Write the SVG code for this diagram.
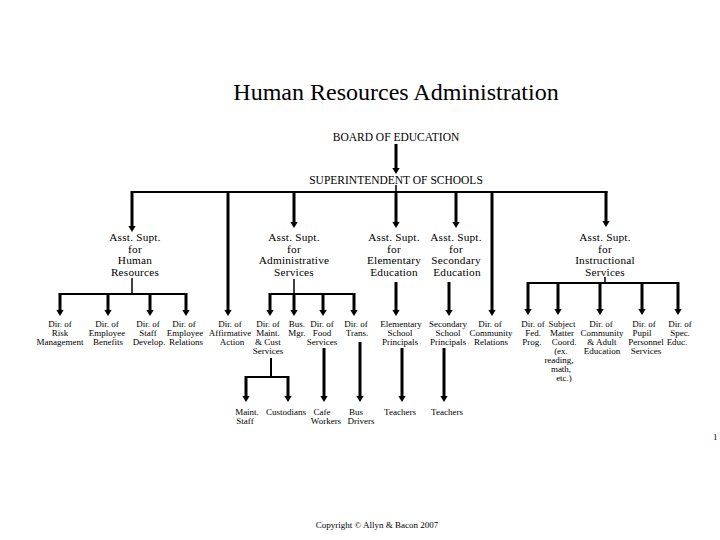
<svg xmlns="http://www.w3.org/2000/svg" width="720" height="540" viewBox="0 0 720 540">
<style>
text{font-family:"Liberation Serif","Times New Roman",serif;fill:#000;text-anchor:middle}
.t{font-size:24px}
.h{font-size:11.5px}
.m{font-size:11.3px;letter-spacing:0.2px}
.s{font-size:9px}
.c{font-size:9px}
.a{stroke:#000;stroke-width:3;fill:none;marker-end:url(#ah)}
.b{stroke:#000;stroke-width:2;fill:none}
.n{stroke:#000;stroke-width:1.5;fill:none}
</style>
<defs>
<marker id="ah" markerUnits="userSpaceOnUse" markerWidth="7" markerHeight="8" refX="0.5" refY="4" orient="auto">
<path d="M0,0 L6.5,4 L0,8 z" fill="#000"/>
</marker>
</defs>
<rect width="720" height="540" fill="#fff"/>
<text class="t" x="396" y="100">Human Resources Administration</text>

<g id="connectors">
<line class="a" x1="396" y1="144" x2="396" y2="168"/>
<line class="n" x1="396" y1="185" x2="396" y2="192"/>
<line class="b" x1="131" y1="192" x2="607.5" y2="192"/>
<line class="a" x1="132" y1="191" x2="132" y2="226"/>
<line class="a" x1="228" y1="191" x2="228" y2="310"/>
<line class="a" x1="294" y1="191" x2="294" y2="222"/>
<line class="a" x1="396" y1="191" x2="396" y2="222"/>
<line class="a" x1="456" y1="191" x2="456" y2="222"/>
<line class="a" x1="492" y1="191" x2="492" y2="310"/>
<line class="a" x1="606" y1="191" x2="606" y2="221"/>
<line class="n" x1="132" y1="278" x2="132" y2="294"/>
<line class="b" x1="59" y1="294" x2="187" y2="294"/>
<line class="a" x1="60" y1="293" x2="60" y2="310"/>
<line class="a" x1="108" y1="293" x2="108" y2="310"/>
<line class="a" x1="150" y1="293" x2="150" y2="310"/>
<line class="a" x1="186" y1="293" x2="186" y2="310"/>
<line class="n" x1="294" y1="279" x2="294" y2="294"/>
<line class="b" x1="269" y1="294" x2="355" y2="294"/>
<line class="a" x1="270" y1="293" x2="270" y2="310"/>
<line class="a" x1="294" y1="293" x2="294" y2="310"/>
<line class="a" x1="323" y1="293" x2="323" y2="310"/>
<line class="a" x1="354" y1="293" x2="354" y2="310"/>
<line class="a" x1="396" y1="282" x2="396" y2="310"/>
<line class="a" x1="449" y1="282" x2="449" y2="310"/>
<line class="n" x1="605" y1="277" x2="605" y2="283"/>
<line class="b" x1="527" y1="283" x2="679" y2="283"/>
<line class="a" x1="528" y1="282" x2="528" y2="309"/>
<line class="a" x1="558" y1="282" x2="558" y2="309"/>
<line class="a" x1="600" y1="282" x2="600" y2="309"/>
<line class="a" x1="642" y1="282" x2="642" y2="309"/>
<line class="a" x1="678" y1="282" x2="678" y2="309"/>
<line class="b" x1="271" y1="358" x2="271" y2="377"/>
<line class="b" x1="245" y1="377" x2="289" y2="377"/>
<line class="a" x1="246" y1="376" x2="246" y2="396"/>
<line class="a" x1="288" y1="376" x2="288" y2="396"/>
<line class="a" x1="324" y1="348" x2="324" y2="396"/>
<line class="a" x1="360" y1="342" x2="360" y2="396"/>
<line class="a" x1="402" y1="348" x2="402" y2="396"/>
<line class="a" x1="444" y1="348" x2="444" y2="396"/>
</g>

<g id="board"><text class="h" x="396" y="141">BOARD OF EDUCATION</text></g>
<g id="super"><text class="h" x="396" y="184">SUPERINTENDENT OF SCHOOLS</text></g>

<g id="asst-hr"><text class="m" x="135" y="241">Asst. Supt.</text><text class="m" x="135" y="252.5">for</text><text class="m" x="135" y="264">Human</text><text class="m" x="135" y="275.5">Resources</text></g>
<g id="asst-admin"><text class="m" x="294" y="241">Asst. Supt.</text><text class="m" x="294" y="252.5">for</text><text class="m" x="294" y="264">Administrative</text><text class="m" x="294" y="275.5">Services</text></g>
<g id="asst-elem"><text class="m" x="394" y="241">Asst. Supt.</text><text class="m" x="394" y="252.5">for</text><text class="m" x="394" y="264">Elementary</text><text class="m" x="394" y="275.5">Education</text></g>
<g id="asst-sec"><text class="m" x="456" y="241">Asst. Supt.</text><text class="m" x="456" y="252.5">for</text><text class="m" x="456" y="264">Secondary</text><text class="m" x="457" y="275.5">Education</text></g>
<g id="asst-instr"><text class="m" x="605" y="241">Asst. Supt.</text><text class="m" x="605" y="252.5">for</text><text class="m" x="605" y="264">Instructional</text><text class="m" x="605" y="275.5">Services</text></g>

<g id="dir-risk"><text class="s" x="60" y="327">Dir. of</text><text class="s" x="60" y="336">Risk</text><text class="s" x="60" y="345">Management</text></g>
<g id="dir-benefits"><text class="s" x="107" y="327">Dir. of</text><text class="s" x="107" y="336">Employee</text><text class="s" x="108" y="345">Benefits</text></g>
<g id="dir-staff"><text class="s" x="148" y="327">Dir. of</text><text class="s" x="148" y="336">Staff</text><text class="s" x="149" y="345">Develop.</text></g>
<g id="dir-emprel"><text class="s" x="184" y="327">Dir. of</text><text class="s" x="185" y="336">Employee</text><text class="s" x="186" y="345">Relations</text></g>
<g id="dir-aa"><text class="s" x="230" y="327">Dir. of</text><text class="s" x="230" y="336">Affirmative</text><text class="s" x="232" y="345">Action</text></g>
<g id="dir-maint"><text class="s" x="268" y="327">Dir. of</text><text class="s" x="268" y="336">Maint.</text><text class="s" x="268" y="345">&amp; Cust</text><text class="s" x="268" y="354">Services</text></g>
<g id="bus-mgr"><text class="s" x="297" y="327">Bus.</text><text class="s" x="297" y="336">Mgr.</text></g>
<g id="dir-food"><text class="s" x="322" y="327">Dir. of</text><text class="s" x="322" y="336">Food</text><text class="s" x="322" y="345">Services</text></g>
<g id="dir-trans"><text class="s" x="356" y="327">Dir. of</text><text class="s" x="357" y="336">Trans.</text></g>
<g id="elem-prin"><text class="s" x="401" y="327">Elementary</text><text class="s" x="400" y="336">School</text><text class="s" x="400" y="345">Principals</text></g>
<g id="sec-prin"><text class="s" x="448" y="327">Secondary</text><text class="s" x="448" y="336">School</text><text class="s" x="448" y="345">Principals</text></g>
<g id="dir-comm"><text class="s" x="490" y="327">Dir. of</text><text class="s" x="491" y="336">Community</text><text class="s" x="491" y="345">Relations</text></g>
<g id="dir-fed"><text class="s" x="533" y="327">Dir. of</text><text class="s" x="533" y="336">Fed.</text><text class="s" x="532" y="345">Prog.</text></g>
<g id="subject"><text class="s" x="562" y="327">Subject</text><text class="s" x="562" y="336">Matter</text><text class="s" x="564" y="345">Coord.</text><text class="s" x="561" y="354">(ex.</text><text class="s" x="559" y="363">reading,</text><text class="s" x="561" y="372">math,</text><text class="s" x="564" y="381">etc.)</text></g>
<g id="dir-adult"><text class="s" x="601" y="327">Dir. of</text><text class="s" x="602" y="336">Community</text><text class="s" x="602" y="345">&amp; Adult</text><text class="s" x="602" y="354">Education</text></g>
<g id="dir-pupil"><text class="s" x="644" y="327">Dir. of</text><text class="s" x="642" y="336">Pupil</text><text class="s" x="646" y="345">Personnel</text><text class="s" x="646" y="354">Services</text></g>
<g id="dir-spec"><text class="s" x="680" y="327">Dir. of</text><text class="s" x="680" y="336">Spec.</text><text class="s" x="677" y="345">Educ.</text></g>

<g id="maint-staff"><text class="s" x="247" y="415">Maint.</text><text class="s" x="245" y="424">Staff</text></g>
<g id="custodians"><text class="s" x="286" y="415">Custodians</text></g>
<g id="cafe"><text class="s" x="322" y="415">Cafe</text><text class="s" x="326" y="424">Workers</text></g>
<g id="bus-drivers"><text class="s" x="356" y="415">Bus</text><text class="s" x="361" y="424">Drivers</text></g>
<g id="teachers-elem"><text class="s" x="400" y="415">Teachers</text></g>
<g id="teachers-sec"><text class="s" x="447" y="415">Teachers</text></g>

<text class="c" x="377" y="528">Copyright © Allyn &amp; Bacon 2007</text>
<text class="s" x="713" y="440" style="text-anchor:start">1</text>
</svg>
